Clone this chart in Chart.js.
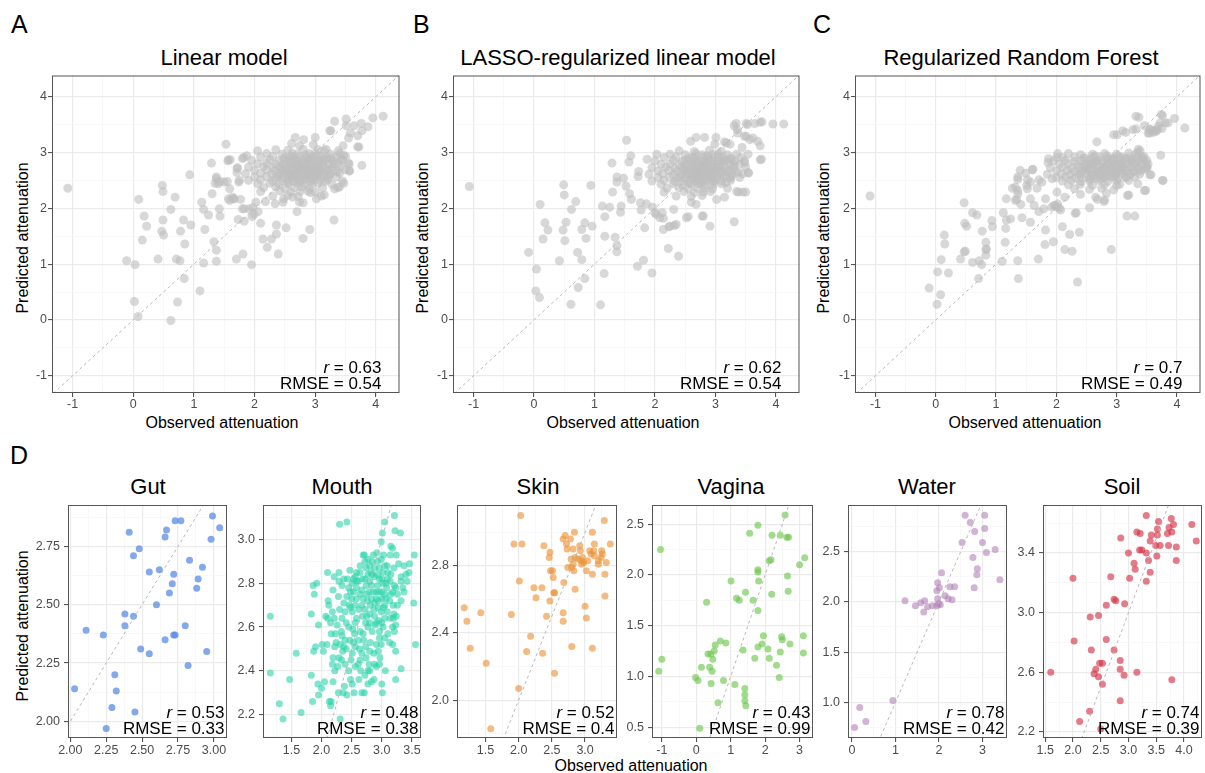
<!DOCTYPE html>
<html>
<head>
<meta charset="utf-8">
<script src="https://cdn.jsdelivr.net/npm/chart.js@4.4.0/dist/chart.umd.min.js"></script>
<style>
  html, body { margin: 0; padding: 0; background: #fff; }
  body { width: 1205px; height: 773px; position: relative; overflow: hidden;
         font-family: "Liberation Sans", Arial, sans-serif; color: #000; }
  canvas { position: absolute; }
  .txt { position: absolute; white-space: nowrap; }
  .tag { font-size: 25px; line-height: 25px; }
  .ttl { font-size: 22px; line-height: 22px; transform: translateX(-50%); }
  .axt { font-size: 16px; line-height: 16px; transform: translateX(-50%); }
  .ayt { font-size: 16px; line-height: 16px; transform: translate(-50%, -50%) rotate(-90deg); }
</style>
</head>
<body>
<div class="txt tag" style="left:11px;top:12px">A</div>
<div class="txt tag" style="left:413px;top:12px">B</div>
<div class="txt tag" style="left:813px;top:12px">C</div>
<div class="txt tag" style="left:10px;top:443px">D</div>

<div class="txt ttl" style="left:224px;top:47px">Linear model</div>
<div class="txt ttl" style="left:618px;top:47px">LASSO-regularized linear model</div>
<div class="txt ttl" style="left:1021px;top:47px">Regularized Random Forest</div>

<div class="txt axt" style="left:222px;top:415px">Observed attenuation</div>
<div class="txt axt" style="left:623px;top:415px">Observed attenuation</div>
<div class="txt axt" style="left:1025px;top:415px">Observed attenuation</div>
<div class="txt ayt" style="left:23px;top:238px">Predicted attenuation</div>
<div class="txt ayt" style="left:423px;top:238px">Predicted attenuation</div>
<div class="txt ayt" style="left:824px;top:238px">Predicted attenuation</div>

<div class="txt ttl" style="left:148px;top:476px">Gut</div>
<div class="txt ttl" style="left:342px;top:476px">Mouth</div>
<div class="txt ttl" style="left:538px;top:476px">Skin</div>
<div class="txt ttl" style="left:731px;top:476px">Vagina</div>
<div class="txt ttl" style="left:927px;top:476px">Water</div>
<div class="txt ttl" style="left:1122px;top:476px">Soil</div>
<div class="txt ayt" style="left:23px;top:626px">Predicted attenuation</div>
<div class="txt axt" style="left:631px;top:758px">Observed attenuation</div>

<script>
// observed vs predicted attenuation, [observed, predicted]
const linearPts = [
  [-1.08,2.36],[-0.11,1.06],[0.03,0.99],[0.02,0.33],[0.08,0.06],[0.62,-0.01],[0.73,0.32],[0.84,0.74],[1.10,0.52],
  [0.41,1.09],[0.71,1.09],[0.77,1.06],[1.16,1.02],[1.37,1.05],[1.70,1.09],[1.81,1.18],[1.95,0.99],[1.37,1.25],[1.33,1.40],
  [2.39,1.18],[2.21,1.30],[2.14,1.45],[2.28,1.45],[2.80,1.46],[2.36,1.54],[2.52,1.65],[2.36,1.70],[2.91,1.62],[3.31,1.79],
  [2.70,1.94],[2.10,1.73],[1.83,1.77],[1.73,1.80],[0.15,1.43],[0.22,1.68],[0.18,1.86],[0.09,2.16],[0.47,1.59],[0.50,1.52],
  [0.49,1.79],[0.48,2.41],[0.49,2.30],[0.62,1.98],[0.69,2.20],[0.78,1.59],[0.83,1.79],[0.85,1.36],[0.95,1.70],[0.93,2.60],
  [1.18,1.62],[1.13,2.11],[1.16,1.98],[1.24,1.88],[1.30,2.26],[1.29,2.81],[1.43,1.86],[1.42,1.99],[1.37,2.56],[1.40,2.44],
  [1.53,3.15],[1.55,2.48],[1.57,2.87],[1.59,2.14],[1.65,2.17],[1.71,2.71],[1.74,2.47],[1.83,1.99],[1.82,2.91],[1.97,2.01],
  [2.02,2.11],[2.05,3.03],[1.99,1.89],[2.06,1.94],[2.18,2.12],[2.34,2.08],[2.47,2.11],[2.67,3.27],[3.00,3.27],[3.26,3.39],
  [3.32,3.56],[3.51,3.60],[3.76,3.52],[3.95,3.62],[4.12,3.65],[3.87,3.46],[3.77,2.77],[3.70,3.10],[3.56,2.67],[3.47,2.45],
  [3.37,2.37],[3.32,2.35],[3.02,2.17],[3.15,2.24],[2.92,2.28],[2.74,2.11],[2.63,2.20],[2.48,2.17],
  [1.87,2.94],[1.80,2.89],[1.60,2.87],[1.56,2.85],[1.72,2.73],[1.71,2.64],[1.75,2.50],[1.37,2.53],[1.35,2.45],[1.43,2.48],
  [1.50,2.47],[1.59,2.35],[1.64,2.20],[1.57,2.17],[1.67,2.17],[1.77,2.16],[1.80,1.99],[1.91,1.99],[1.96,1.85],
  [2.81,3.23],[2.61,3.16],[2.74,3.12],[2.97,3.14],[3.18,3.06],[3.64,3.48],[3.24,3.39],[3.51,3.48],[3.58,3.35],[3.70,3.30],
  [3.77,3.39],[3.55,3.26],[3.46,3.12],[3.72,3.10],[3.38,3.03],[3.47,2.95],[3.43,2.88],[3.56,2.79],[3.57,2.67],[2.80,2.10],
  [2.35,3.05],[2.55,3.04],[2.80,3.06],[3.05,3.05],[3.15,3.03],
  [2.20,2.98],[2.45,2.97],[2.62,2.99],[2.70,2.97],[2.90,2.98],[3.00,2.99],[3.25,2.97],[3.40,2.98],
  [2.10,2.92],[2.30,2.93],[2.50,2.91],[2.58,2.92],[2.75,2.93],[2.85,2.91],[2.95,2.92],[3.10,2.93],[3.20,2.91],[3.35,2.92],[3.50,2.93],
  [1.95,2.86],[2.25,2.87],[2.40,2.85],[2.55,2.86],[2.65,2.87],[2.72,2.85],[2.80,2.86],[2.90,2.87],[3.00,2.85],[3.08,2.86],[3.18,2.87],[3.30,2.85],[3.45,2.86],
  [2.05,2.80],[2.20,2.81],[2.35,2.79],[2.48,2.80],[2.60,2.81],[2.68,2.79],[2.76,2.80],[2.84,2.81],[2.92,2.79],[3.02,2.80],[3.12,2.81],[3.22,2.79],[3.38,2.80],[3.55,2.81],
  [1.90,2.74],[2.15,2.75],[2.30,2.73],[2.42,2.74],[2.52,2.75],[2.62,2.73],[2.70,2.74],[2.78,2.75],[2.86,2.73],[2.95,2.74],[3.05,2.75],[3.15,2.73],[3.28,2.74],[3.42,2.75],
  [2.00,2.68],[2.20,2.69],[2.33,2.67],[2.45,2.68],[2.55,2.69],[2.64,2.67],[2.72,2.68],[2.80,2.69],[2.88,2.67],[2.97,2.68],[3.06,2.69],[3.18,2.67],[3.30,2.68],[3.50,2.69],
  [1.85,2.62],[2.10,2.63],[2.28,2.61],[2.40,2.62],[2.50,2.63],[2.60,2.61],[2.68,2.62],[2.76,2.63],[2.84,2.61],[2.93,2.62],[3.02,2.63],[3.12,2.61],[3.25,2.62],[3.40,2.63],
  [2.00,2.56],[2.20,2.57],[2.35,2.55],[2.47,2.56],[2.57,2.57],[2.66,2.55],[2.74,2.56],[2.83,2.57],[2.92,2.55],[3.00,2.56],[3.10,2.57],[3.22,2.55],[3.35,2.56],
  [1.90,2.50],[2.10,2.51],[2.30,2.49],[2.45,2.50],[2.55,2.51],[2.65,2.49],[2.75,2.50],[2.85,2.51],[2.95,2.49],[3.08,2.50],[3.20,2.51],[3.45,2.49],
  [2.05,2.44],[2.25,2.45],[2.40,2.43],[2.55,2.44],[2.70,2.45],[2.82,2.43],[2.95,2.44],[3.05,2.45],[3.28,2.43],
  [2.15,2.37],[2.35,2.38],[2.50,2.36],[2.65,2.37],[2.78,2.38],[2.90,2.36],[3.12,2.37],[3.40,2.38],
  [2.10,2.30],[2.42,2.31],[2.60,2.29],[2.75,2.30],[2.88,2.31],[3.00,2.29],
  [2.30,2.22],[2.55,2.23],[2.72,2.21],[3.10,2.22],
  [2.60,2.70],[2.70,2.65],[2.80,2.72],[2.90,2.66],[2.65,2.58],[2.85,2.60],[2.75,2.77],[2.55,2.63],[2.95,2.71],[3.05,2.62],
  [2.45,2.72],[2.52,2.66],[2.58,2.78],[2.62,2.55],[2.68,2.84],[2.72,2.58],[2.78,2.68],[2.82,2.53],[2.86,2.79],[2.90,2.62],
  [2.94,2.86],[2.98,2.58],[3.02,2.72],[3.06,2.78],[3.10,2.65],[3.14,2.88],[3.20,2.70],[3.24,2.59],[3.30,2.80],[2.40,2.58],
  [2.48,2.88],[2.56,2.47],[2.64,2.93],[2.74,2.47],[2.84,2.96],[2.96,2.52],[3.04,2.94],[3.16,2.48],[3.26,2.90],[3.36,2.66]
];

const lassoPts = [
  [-1.07,2.39],[-0.09,1.21],[0.04,0.91],[0.03,0.52],[0.09,0.40],[0.61,0.28],[1.10,0.27],[0.73,0.58],[0.84,0.74],
  [0.42,1.06],[0.72,1.21],[0.79,1.08],[1.16,0.83],[1.37,1.22],[1.37,1.33],[1.34,1.48],[1.71,0.96],[1.81,1.07],[1.95,0.84],
  [2.22,1.28],[2.39,1.14],[1.83,1.65],[1.17,1.50],[0.15,1.45],[0.18,1.74],[0.23,1.61],[0.10,2.07],[0.48,1.61],[0.51,1.42],
  [0.53,1.75],[0.49,2.42],[0.50,2.24],[0.62,1.98],[0.69,2.12],[0.79,1.62],[0.84,1.74],[0.86,1.46],[0.96,1.68],[0.94,2.41],
  [1.17,1.85],[1.13,2.04],[1.25,2.02],[1.30,2.29],[1.29,2.81],[1.43,1.93],[1.44,2.04],[1.37,2.56],[1.53,3.22],[1.57,2.83],
  [1.60,2.94],[2.00,1.92],[2.14,1.82],[2.12,1.92],[2.31,1.98],[2.35,1.71],[2.25,1.68],[2.14,1.62],[2.55,1.85],[2.80,1.86],
  [2.91,1.68],[3.31,1.76],[2.60,2.11],[3.50,2.29],[3.38,2.29],[3.55,2.63],[3.76,2.88],[3.74,3.12],[3.65,3.52],[3.77,3.55],
  [3.95,3.51],[4.13,3.51],[3.34,3.52],[3.53,3.50],[3.36,3.41],[3.51,3.29],[3.57,3.23],[2.68,3.27],[2.82,3.27],[2.59,3.20],
  [3.01,3.27],[3.18,3.17],
  [2.03,2.97],[1.87,2.88],[1.73,2.66],[1.72,2.57],[1.37,2.47],[1.48,2.54],[1.52,2.40],[1.58,2.26],[1.61,2.16],[1.76,2.10],
  [1.86,2.08],[1.96,2.02],[2.02,1.89],[2.08,1.83],[1.77,1.97],[2.99,3.15],[3.15,3.19],[3.24,3.15],[3.31,3.48],[3.51,3.52],
  [3.74,3.54],[3.37,3.35],[3.48,3.29],[3.62,3.26],[3.70,3.20],[3.44,3.09],[3.54,2.97],[3.48,2.82],[3.54,2.64],[3.74,2.87],
  [3.45,2.29],[3.35,2.30],[3.15,2.20],[3.02,2.16],[2.78,1.86],[2.68,2.07],[2.52,1.83],[2.32,1.69],[2.23,1.67],
  [2.40,3.03],[2.65,3.02],[2.90,3.04],[3.10,3.02],
  [2.25,2.97],[2.50,2.96],[2.68,2.98],[2.78,2.96],[2.95,2.97],[3.05,2.98],[3.20,2.96],[3.35,2.97],
  [2.15,2.91],[2.35,2.92],[2.55,2.90],[2.62,2.91],[2.80,2.92],[2.88,2.90],[2.98,2.91],[3.12,2.92],[3.25,2.90],[3.42,2.91],
  [2.00,2.85],[2.30,2.86],[2.45,2.84],[2.58,2.85],[2.68,2.86],[2.75,2.84],[2.83,2.85],[2.93,2.86],[3.03,2.84],[3.10,2.85],[3.20,2.86],[3.32,2.84],[3.48,2.85],
  [2.10,2.79],[2.25,2.80],[2.40,2.78],[2.52,2.79],[2.63,2.80],[2.70,2.78],[2.78,2.79],[2.86,2.80],[2.94,2.78],[3.04,2.79],[3.14,2.80],[3.25,2.78],[3.40,2.79],
  [1.95,2.73],[2.18,2.74],[2.33,2.72],[2.45,2.73],[2.55,2.74],[2.64,2.72],[2.72,2.73],[2.80,2.74],[2.88,2.72],[2.97,2.73],[3.07,2.74],[3.17,2.72],[3.30,2.73],[3.50,2.74],
  [2.05,2.67],[2.23,2.68],[2.36,2.66],[2.48,2.67],[2.58,2.68],[2.66,2.66],[2.74,2.67],[2.82,2.68],[2.90,2.66],[2.99,2.67],[3.08,2.68],[3.20,2.66],[3.33,2.67],
  [1.90,2.61],[2.13,2.62],[2.30,2.60],[2.43,2.61],[2.53,2.62],[2.62,2.60],[2.70,2.61],[2.78,2.62],[2.86,2.60],[2.95,2.61],[3.04,2.62],[3.15,2.60],[3.28,2.61],[3.45,2.62],
  [2.05,2.55],[2.24,2.56],[2.38,2.54],[2.50,2.55],[2.60,2.56],[2.68,2.54],[2.76,2.55],[2.85,2.56],[2.94,2.54],[3.02,2.55],[3.12,2.56],[3.25,2.54],[3.40,2.55],
  [1.95,2.49],[2.15,2.50],[2.33,2.48],[2.48,2.49],[2.58,2.50],[2.68,2.48],[2.77,2.49],[2.87,2.50],[2.97,2.48],[3.10,2.49],[3.25,2.50],
  [2.10,2.43],[2.30,2.44],[2.45,2.42],[2.60,2.43],[2.72,2.44],[2.84,2.42],[2.97,2.43],[3.10,2.44],
  [2.20,2.36],[2.40,2.37],[2.55,2.35],[2.70,2.36],[2.82,2.37],[2.95,2.35],[3.20,2.36],
  [2.15,2.29],[2.48,2.30],[2.65,2.28],[2.80,2.29],[2.92,2.30],
  [2.35,2.22],[2.60,2.21],[2.78,2.23],
  [2.65,2.70],[2.75,2.64],[2.85,2.70],[2.95,2.65],[2.70,2.57],[2.90,2.59],[2.80,2.76],[2.60,2.64],[3.00,2.70],[2.72,2.52],
  [2.47,2.70],[2.53,2.64],[2.60,2.76],[2.63,2.53],[2.69,2.82],[2.73,2.60],[2.79,2.70],[2.83,2.51],[2.87,2.77],[2.91,2.60],
  [2.95,2.84],[2.99,2.56],[3.03,2.70],[3.07,2.76],[3.11,2.63],[3.15,2.86],[3.21,2.68],[3.25,2.57],[3.31,2.78],[2.42,2.56],
  [2.50,2.86],[2.57,2.45],[2.66,2.91],[2.76,2.45],[2.86,2.94],[2.97,2.50],[3.05,2.92],[3.17,2.46],[3.27,2.88],[3.37,2.64]
];

const forestPts = [
  [-1.09,2.22],[-0.11,0.57],[0.02,0.28],[0.08,0.45],[0.03,0.86],[0.09,1.08],[0.21,0.84],[0.41,1.09],[0.61,1.03],[0.76,0.99],
  [0.71,0.74],[0.47,1.22],[0.49,1.23],[0.72,1.06],[0.83,1.16],[0.84,1.27],[0.83,1.39],[1.15,1.39],[1.10,1.05],[1.36,1.06],
  [1.37,0.74],[1.70,1.09],[1.81,1.35],[1.95,1.40],[2.26,1.23],[2.14,1.26],[2.35,0.68],[2.91,1.26],[0.15,1.36],[0.14,1.52],
  [0.48,1.73],[0.51,1.68],[0.47,2.10],[0.61,1.92],[0.68,1.88],[0.77,1.59],[0.93,1.78],[0.94,1.67],[0.83,1.26],[1.16,1.64],
  [1.12,1.92],[1.17,1.79],[1.24,1.81],[1.43,1.83],[1.57,1.75],[1.82,1.61],[2.10,1.67],[2.22,1.53],[2.33,1.92],[2.38,1.57],
  [2.55,2.01],[3.17,1.86],[3.20,2.24],[3.48,2.32],[3.77,2.50],[3.73,2.95],[3.57,2.60],[3.50,2.72],[1.34,2.16],[1.36,2.26],
  [1.17,2.17],[1.32,2.38],[1.36,2.56],[1.40,2.68],[1.52,2.51],[1.61,2.70],[1.96,2.05],[2.01,2.02],[2.07,1.97],[2.67,3.19],
  [2.95,3.32],[3.10,3.39],[3.27,3.41],[3.32,3.65],[3.46,3.48],[3.55,3.41],[3.76,3.66],[3.72,3.53],[3.81,3.53],[3.96,3.61],
  [4.13,3.44],[3.65,3.39],[3.54,3.35],[1.87,2.89],[2.01,2.91],[3.39,3.03],[3.42,2.89],[3.47,2.82],
  [2.02,2.98],[1.86,2.82],[1.60,2.69],[1.49,2.63],[1.36,2.52],[1.27,2.36],[1.36,2.32],[1.52,2.35],[1.51,2.41],[1.68,2.36],
  [1.71,2.51],[1.57,2.47],[1.32,2.14],[1.41,2.07],[1.57,2.17],[1.63,2.05],[1.71,1.94],[1.79,1.99],[1.82,2.17],[1.76,2.47],
  [1.93,2.53],[2.01,2.29],[2.14,2.20],[2.31,1.91],[2.68,2.16],[2.79,2.12],[2.83,2.27],[3.00,2.41],[3.18,2.23],[3.30,1.86],
  [3.35,2.44],[3.46,2.32],[3.55,2.60],[3.76,2.50],[3.37,3.63],[3.74,3.68],[3.85,3.53],[3.69,3.47],[3.61,3.36],[3.52,3.35],
  [3.32,3.42],[3.15,3.36],[3.01,3.32],[3.36,3.06],[3.31,2.97],[3.43,2.91],[3.52,2.79],[3.47,2.70],
  [3.55,3.42],[3.62,3.40],[3.68,3.41],[3.75,3.43],[3.58,3.37],[3.65,3.38],[1.92,2.02],[1.98,2.05],[2.05,2.00],[2.02,2.08],
  [2.20,2.98],[2.40,2.96],[2.60,2.97],[2.80,2.98],[3.00,2.97],[3.20,2.99],[3.35,3.01],
  [2.10,2.91],[2.30,2.92],[2.45,2.90],[2.60,2.91],[2.72,2.92],[2.85,2.90],[2.95,2.91],[3.08,2.92],[3.20,2.90],[3.32,2.91],[3.45,2.93],
  [1.95,2.85],[2.15,2.86],[2.30,2.84],[2.42,2.85],[2.55,2.86],[2.65,2.84],[2.75,2.85],[2.85,2.86],[2.95,2.84],[3.05,2.85],[3.15,2.86],[3.25,2.84],[3.38,2.85],[3.50,2.86],
  [2.05,2.79],[2.20,2.80],[2.35,2.78],[2.48,2.79],[2.58,2.80],[2.68,2.78],[2.78,2.79],[2.88,2.80],[2.98,2.78],[3.08,2.79],[3.18,2.80],[3.30,2.78],[3.42,2.79],
  [1.90,2.73],[2.10,2.74],[2.25,2.72],[2.38,2.73],[2.50,2.74],[2.60,2.72],[2.70,2.73],[2.80,2.74],[2.90,2.72],[3.00,2.73],[3.10,2.74],[3.22,2.72],[3.35,2.73],[3.50,2.74],
  [2.00,2.67],[2.18,2.68],[2.30,2.66],[2.43,2.67],[2.55,2.68],[2.65,2.66],[2.75,2.67],[2.85,2.68],[2.95,2.66],[3.05,2.67],[3.15,2.68],[3.28,2.66],[3.40,2.67],
  [1.85,2.61],[2.08,2.62],[2.22,2.60],[2.36,2.61],[2.48,2.62],[2.58,2.60],[2.68,2.61],[2.78,2.62],[2.88,2.60],[2.98,2.61],[3.10,2.62],[3.22,2.60],[3.38,2.61],
  [2.00,2.55],[2.15,2.56],[2.30,2.54],[2.42,2.55],[2.55,2.56],[2.65,2.54],[2.78,2.55],[2.90,2.56],[3.02,2.54],[3.15,2.55],[3.30,2.56],
  [2.10,2.49],[2.25,2.50],[2.40,2.48],[2.55,2.49],[2.70,2.50],[2.85,2.48],[3.00,2.49],[3.20,2.50],
  [2.20,2.42],[2.40,2.43],[2.60,2.41],[2.80,2.42],[3.05,2.43],
  [2.30,2.35],[2.55,2.34],[2.75,2.36],[2.95,2.33],
  [2.40,2.25],[2.65,2.20],[2.80,2.15],
  [2.50,2.70],[2.60,2.76],[2.70,2.65],[2.80,2.70],[2.90,2.76],[3.00,2.64],[3.10,2.70],[2.75,2.58],[2.62,2.82],[2.95,2.82],
  [2.45,2.74],[2.52,2.68],[2.58,2.80],[2.62,2.58],[2.68,2.86],[2.72,2.62],[2.78,2.72],[2.82,2.57],[2.86,2.82],[2.90,2.66],
  [2.94,2.88],[2.98,2.60],[3.02,2.75],[3.06,2.80],[3.10,2.66],[3.14,2.90],[3.20,2.74],[3.24,2.63],[3.30,2.82],[2.40,2.62],
  [2.48,2.90],[2.56,2.52],[2.64,2.94],[2.74,2.52],[2.84,2.94],[2.96,2.56],[3.04,2.92],[3.16,2.55],[3.26,2.88],[3.36,2.70]
];

const gutPts = [
  [2.03,2.14],[2.11,2.39],[2.23,2.37],[2.25,1.97],[2.29,2.06],[2.31,2.20],[2.32,2.13],[2.38,2.41],[2.38,2.46],[2.41,2.81],
  [2.44,2.71],[2.44,2.45],[2.45,2.04],[2.48,2.74],[2.49,2.31],[2.55,2.64],[2.55,2.29],[2.60,2.50],[2.62,2.65],[2.66,2.79],
  [2.67,2.82],[2.66,2.35],[2.69,2.55],[2.71,2.59],[2.72,2.63],[2.72,2.37],[2.73,2.37],[2.73,2.86],[2.77,2.86],[2.80,2.41],
  [2.82,2.24],[2.83,2.69],[2.88,2.57],[2.89,2.61],[2.92,2.66],[2.95,2.30],[2.98,2.78],[2.99,2.88],[3.04,2.83]
];

const mouthPts = [
  [1.15,2.65],[1.15,2.39],[1.30,2.25],[1.36,2.18],[1.47,2.36],[1.58,2.48],[1.66,2.21],[1.83,2.38],[1.85,2.26],[1.83,2.66],
  [1.86,2.79],[1.92,2.80],[1.88,2.75],[1.90,2.51],[1.87,2.49],[1.95,2.61],[1.94,2.34],[2.00,2.32],[1.95,2.29],[2.05,2.35],
  [2.03,2.49],[2.09,2.52],[2.01,2.52],[2.07,2.65],[2.10,2.64],[2.10,2.85],[2.11,2.72],[2.13,2.26],[2.16,2.26],[2.15,2.24],
  [2.19,2.35],[2.22,2.40],[2.18,2.43],[2.19,2.46],[2.22,2.51],[2.16,2.57],[2.21,2.64],[2.19,2.77],[2.21,2.83],[2.29,2.85],
  [2.30,3.07],[2.42,3.08],[2.31,2.18],[2.28,2.30],[2.36,2.30],[2.42,2.29],[2.38,2.33],[2.27,2.42],[2.35,2.49],[2.41,2.50],
  [2.34,2.56],[2.39,2.54],[2.47,2.54],[2.30,2.68],[2.34,2.64],[2.39,2.67],[2.28,2.74],[2.34,2.79],[2.43,2.82],[2.47,2.86],
  [2.48,2.36],[2.49,2.45],[2.51,2.48],[2.51,2.34],[2.54,2.30],[2.56,2.62],[2.52,2.59],[2.55,2.57],[2.58,2.73],[2.50,2.73],
  [2.56,2.83],[2.58,2.81],[2.63,2.50],[2.64,2.45],[2.65,2.40],[2.67,2.30],[2.71,2.30],[2.77,2.34],[2.83,2.35],[2.87,2.36],
  [3.00,2.34],[3.01,2.30],[3.06,2.40],[2.97,2.46],[2.88,2.43],[2.79,2.43],[2.77,2.40],[2.74,2.46],[2.73,2.51],[2.70,2.54],
  [2.81,2.53],[2.87,2.48],[2.91,2.52],[2.96,2.55],[3.02,2.60],[3.18,2.60],[3.20,2.66],[3.19,2.70],[3.32,2.72],[3.23,2.49],
  [3.19,2.64],[3.24,2.65],[3.32,2.41],[3.23,2.36],[3.56,2.52],[3.53,2.71],[3.54,2.93],[3.46,2.89],[3.35,2.78],[3.32,2.83],
  [3.21,3.11],[3.22,3.04],[3.31,3.03],[3.05,3.08],[3.01,3.03],[2.99,2.99],[3.15,2.97],[3.18,2.96],[3.24,2.93],[3.14,2.93],
  [3.03,2.93],[2.92,2.94],[2.86,2.93],[2.71,2.93],[2.69,2.93],[2.77,2.91],[2.84,2.90],[2.93,2.90],[2.99,2.91],[3.09,2.88],
  [3.20,2.87],[3.28,2.89],[3.37,2.88],[3.32,2.81],[3.23,2.78],[3.18,2.76],[3.08,2.78],[3.05,2.75],[3.00,2.76],[2.93,2.79],
  [2.88,2.83],[2.82,2.85],[2.74,2.87],[2.64,2.88],[2.64,2.85],[2.68,2.82],[2.74,2.79],[2.79,2.76],[2.83,2.73],[2.88,2.71],
  [2.94,2.69],[2.99,2.67],[3.05,2.70],[3.13,2.72],[3.09,2.67],[3.14,2.64],[3.05,2.64],[2.95,2.63],[2.88,2.65],[2.80,2.66],
  [2.72,2.68],[2.67,2.70],[2.64,2.75],[2.69,2.73],[2.76,2.72],[2.81,2.70],[2.86,2.76],[2.91,2.73],[2.96,2.76],[3.02,2.80],
  [3.09,2.82],[3.15,2.84],[3.10,2.85],[3.02,2.85],[2.96,2.82],[2.80,2.81],[2.72,2.82],[2.58,2.78],[2.53,2.76],[2.48,2.76],
  [2.56,2.70],[2.62,2.68],[2.68,2.65],[2.73,2.62],[2.77,2.60],[2.84,2.58],[2.89,2.61],[2.96,2.58],[3.05,2.55],[3.13,2.53],
  [3.10,2.57],[2.64,2.58],[2.69,2.57],[2.61,2.54],[2.53,2.53],[2.45,2.60],[2.41,2.62],[2.46,2.70],[2.37,2.71],[2.42,2.74],
  [2.45,2.78],[2.51,2.80],[2.37,2.82],[2.29,2.81],[2.12,2.70],[2.18,2.67],[2.15,2.62],[2.26,2.61],[2.33,2.58],[2.23,2.57],
  [2.24,2.53],[2.31,2.52],[2.37,2.51],[2.29,2.46],[2.33,2.45],[2.39,2.43],[2.45,2.40],[2.56,2.42],[2.62,2.36],[2.72,2.38],
  [2.80,2.40],[2.91,2.42],[2.96,2.43],[2.61,2.43],[2.67,2.48],[2.56,2.51],[2.80,2.49],[2.94,2.49],[2.99,2.52],[3.18,2.52],
  [3.21,2.58],[3.23,2.61],[3.26,2.70],[3.37,2.76],[3.42,2.81],[3.40,2.84],[3.45,2.85],[3.26,2.75],[3.21,2.79],[3.14,2.81],
  [2.88,2.87],[2.96,2.87],[3.05,2.88],[2.80,2.88],[2.72,2.90],[2.58,2.85],[2.53,2.82],[2.61,2.81],[2.67,2.77],[2.75,2.75],
  [2.83,2.79],[2.91,2.76],[2.94,2.72],[3.00,2.73],[3.07,2.73],[3.15,2.75],[3.03,2.69],[2.87,2.68],[2.80,2.62],[2.91,2.62],
  [3.00,2.62],[2.75,2.65],[2.58,2.64],[2.51,2.67],[2.48,2.69],[2.84,2.84],[2.77,2.84],[2.93,2.84],[3.00,2.82],[3.07,2.80]
];

const skinPts = [
  [1.18,2.55],[1.22,2.47],[1.27,2.31],[1.43,2.52],[1.51,2.22],[1.58,1.83],[1.89,2.51],[1.93,2.93],[2.03,3.10],[2.05,2.93],
  [2.01,2.71],[2.00,2.07],[2.12,2.29],[2.18,2.38],[2.23,2.67],[2.26,2.61],[2.35,2.67],[2.36,2.28],[2.38,2.92],[2.42,2.50],
  [2.47,2.59],[2.46,2.85],[2.47,2.88],[2.48,2.77],[2.51,2.77],[2.52,2.73],[2.53,2.64],[2.54,2.64],[2.54,2.16],[2.67,2.52],
  [2.67,2.47],[2.68,2.70],[2.67,2.96],[2.70,2.98],[2.72,2.93],[2.73,2.90],[2.74,2.79],[2.78,2.96],[2.80,2.79],[2.82,2.81],
  [2.80,2.32],[2.84,3.00],[2.82,2.90],[2.85,2.85],[2.83,2.77],[2.85,2.66],[2.92,2.92],[2.93,2.89],[2.94,2.83],[2.98,2.82],
  [2.95,2.81],[3.00,2.56],[3.02,2.49],[3.02,2.77],[3.07,2.89],[3.09,2.87],[3.11,3.00],[3.11,2.75],[3.11,2.31],[3.14,2.93],
  [3.13,2.89],[3.20,2.81],[3.20,2.83],[3.25,2.89],[3.26,2.87],[3.29,3.07],[3.30,2.75],[3.30,2.62],[3.32,2.82],[3.38,2.93],
  [2.79,2.84],[2.89,2.84],[2.96,2.85],[3.04,2.83],[3.14,2.86],[3.24,2.85]
];

const vaginaPts = [
  [-1.04,2.25],[-1.00,1.17],[-1.09,1.05],[-0.02,0.99],[0.05,0.96],[0.10,0.49],[0.15,1.09],[0.30,1.73],[0.34,1.22],[0.39,1.09],
  [0.42,1.22],[0.43,0.93],[0.46,1.05],[0.48,1.17],[0.52,1.25],[0.55,1.31],[0.63,0.74],[0.70,1.35],[0.79,0.96],[0.86,1.33],
  [1.01,1.94],[1.12,0.92],[1.17,1.77],[1.25,1.75],[1.36,1.26],[1.41,0.88],[1.41,0.82],[1.41,0.76],[1.44,0.71],[1.43,1.83],
  [1.55,2.41],[1.65,1.75],[1.70,1.18],[1.79,2.49],[1.79,2.05],[1.79,2.03],[1.81,1.94],[1.79,1.65],[1.79,1.29],[1.91,1.32],
  [1.95,1.40],[2.08,1.27],[2.12,1.18],[2.12,2.14],[2.17,2.15],[2.19,1.81],[2.20,2.39],[2.33,1.11],[2.41,0.99],[2.44,1.24],
  [2.44,2.39],[2.48,1.39],[2.50,1.36],[2.58,2.59],[2.63,2.37],[2.65,1.99],[2.67,1.84],[2.72,1.32],[2.68,2.37],[3.00,2.10],
  [3.11,1.40],[3.11,1.23],[3.15,2.17]
];

const waterPts = [
  [0.06,0.75],[0.18,0.95],[0.32,0.81],[0.94,1.02],[1.22,2.01],[1.46,1.96],[1.58,1.99],[1.65,1.90],[1.67,2.01],[1.74,1.95],
  [1.85,1.96],[1.95,1.96],[1.97,2.03],[1.95,2.11],[1.97,2.19],[2.01,2.14],[2.03,1.97],[1.99,1.98],[2.06,2.29],[2.14,2.06],
  [2.21,2.03],[2.25,2.15],[2.30,2.02],[2.36,2.15],[2.53,2.59],[2.60,2.86],[2.72,2.79],[2.78,2.44],[2.81,2.14],[2.82,2.70],
  [2.88,2.33],[2.87,2.27],[3.00,2.59],[3.05,2.86],[3.05,2.73],[3.09,2.49],[3.29,2.52],[3.40,2.22]
];

const soilPts = [
  [1.60,2.60],[2.00,3.23],[2.02,2.81],[2.12,2.27],[2.30,2.34],[2.31,2.97],[2.33,2.75],[2.38,2.59],[2.41,2.62],[2.46,2.57],
  [2.46,2.98],[2.48,2.66],[2.53,2.66],[2.53,2.52],[2.50,2.22],[2.60,3.05],[2.60,2.82],[2.68,3.24],[2.74,2.75],[2.74,3.09],
  [2.77,3.08],[2.85,2.68],[2.85,2.62],[2.86,3.50],[2.85,2.41],[2.92,2.58],[2.93,3.06],[3.00,3.40],[3.02,3.23],[3.10,3.33],
  [3.12,3.29],[3.15,2.60],[3.15,3.54],[3.21,3.53],[3.20,3.42],[3.24,3.42],[3.32,3.65],[3.32,3.40],[3.32,3.21],[3.36,3.35],
  [3.39,3.48],[3.41,3.52],[3.39,3.27],[3.51,3.38],[3.49,3.45],[3.52,3.52],[3.52,3.56],[3.54,3.61],[3.57,3.45],[3.72,3.45],
  [3.70,3.53],[3.73,3.57],[3.77,3.63],[3.78,3.54],[3.81,3.59],[3.78,2.55],[3.86,3.44],[3.86,3.35],[4.14,3.59],[4.22,3.48]
];

// axis breaks
const topTicks = [-1, 0, 1, 2, 3, 4];
const gutXTicks = [2.00, 2.25, 2.50, 2.75, 3.00];
const gutYTicks = [2.00, 2.25, 2.50, 2.75];
const mouthXTicks = [1.5, 2.0, 2.5, 3.0, 3.5];
const mouthYTicks = [2.2, 2.4, 2.6, 2.8, 3.0];
const skinXTicks = [1.5, 2.0, 2.5, 3.0];
const skinYTicks = [2.0, 2.4, 2.8];
const vaginaXTicks = [-1, 0, 1, 2, 3];
const vaginaYTicks = [0.5, 1.0, 1.5, 2.0, 2.5];
const waterXTicks = [0, 1, 2, 3];
const waterYTicks = [1.0, 1.5, 2.0, 2.5];
const soilXTicks = [1.5, 2.0, 2.5, 3.0, 3.5, 4.0];
const soilYTicks = [2.2, 2.6, 3.0, 3.4];

// correlation and error for each model / environment
const stats = {
  linear: ['0.63', '0.54'], lasso: ['0.62', '0.54'], forest: ['0.7', '0.49'],
  gut: ['0.53', '0.33'], mouth: ['0.48', '0.38'], skin: ['0.52', '0.4'],
  vagina: ['0.43', '0.99'], water: ['0.78', '0.42'], soil: ['0.74', '0.39']
};

const FONT = '"Liberation Sans", Arial, sans-serif';
const AXW = 42, AXH = 30;
Chart.defaults.font.family = FONT;

// major breaks plus the half-way minor breaks that fall inside the range
function tickSet(major, lo, hi) {
  const step = major[1] - major[0];
  const minor = [major[0] - step / 2].concat(major.map(m => m + step / 2));
  return major.map(v => ({ value: v, main: true }))
    .concat(minor.filter(v => v > lo && v < hi).map(v => ({ value: v, main: false })))
    .sort((a, b) => a.value - b.value);
}

function axis(pos, range, major, digits, pad) {
  const ticks = tickSet(major, range[0], range[1]);
  const horiz = pos === 'bottom';
  return {
    type: 'linear', position: pos, min: range[0], max: range[1],
    afterBuildTicks: s => { s.ticks = ticks.map(t => ({ ...t })); },
    afterFit: s => {
      if (horiz) { s.height = AXH; s.paddingLeft = 0; s.paddingRight = 0; }
      else { s.width = AXW; s.paddingTop = 0; s.paddingBottom = 0; }
    },
    border: { display: false },
    grid: {
      color: c => (c.tick && c.tick.main) ? '#ebebeb' : '#f5f5f5',
      lineWidth: c => (c.tick && c.tick.main) ? 1.2 : 0.7,
      tickColor: c => (c.tick && c.tick.main) ? '#444' : 'rgba(0,0,0,0)',
      tickWidth: 1, tickLength: 4
    },
    ticks: {
      autoSkip: false, maxRotation: 0, minRotation: 0, padding: pad,
      color: '#4d4d4d', font: { family: FONT, size: 12.5 },
      callback: v => major.some(m => Math.abs(m - v) < 1e-9) ? Number(v).toFixed(digits) : ''
    }
  };
}

// panel frame and the r / RMSE note in the lower right corner
const panelDecor = {
  id: 'panelDecor',
  afterDatasetsDraw(chart, args, opts) {
    const { ctx, chartArea: a } = chart;
    ctx.save();
    ctx.strokeStyle = '#555';
    ctx.lineWidth = 1;
    ctx.strokeRect(a.left + 0.5, a.top + 0.5, a.right - a.left - 1, a.bottom - a.top - 1);
    const x = a.right - opts.inset;
    ctx.fillStyle = '#000';
    ctx.textAlign = 'right';
    ctx.textBaseline = 'alphabetic';
    ctx.font = '17px ' + FONT;
    const rest = ' = ' + opts.stat[0];
    ctx.fillText(rest, x, a.bottom - opts.gap - 16);
    ctx.fillText('RMSE = ' + opts.stat[1], x, a.bottom - opts.gap);
    const w = ctx.measureText(rest).width;
    ctx.font = 'italic 17px ' + FONT;
    ctx.fillText('r', x - w, a.bottom - opts.gap - 16);
    ctx.restore();
  }
};

function panel(p) {
  const [L, T, R, B] = p.box;
  const w = R - L + AXW + 1, h = B - T + 1 + AXH;
  const cv = document.createElement('canvas');
  cv.width = w; cv.height = h;
  cv.style.left = (L - AXW) + 'px';
  cv.style.top = (T - 1) + 'px';
  cv.style.width = w + 'px';
  cv.style.height = h + 'px';
  document.body.appendChild(cv);
  const lo = Math.min(p.x[0], p.y[0]) - 1, hi = Math.max(p.x[1], p.y[1]) + 1;
  new Chart(cv, {
    type: 'scatter',
    data: {
      datasets: [
        { data: [{ x: lo, y: lo }, { x: hi, y: hi }], showLine: true, pointRadius: 0,
          borderColor: '#b8b8b8', borderWidth: 1, borderDash: [3, 3], order: 0 },
        { data: p.pts.map(([x, y]) => ({ x, y })), backgroundColor: p.color,
          borderWidth: 0, pointRadius: p.radius, order: 1 }
      ]
    },
    options: {
      responsive: false, animation: false, events: [],
      layout: { padding: { top: 1, right: 1, left: 0, bottom: 0 } },
      scales: {
        x: axis('bottom', p.x, p.xt, p.xd, p.padX),
        y: axis('left', p.y, p.yt, p.yd, p.padY)
      },
      plugins: {
        legend: { display: false }, tooltip: { enabled: false },
        panelDecor: { stat: p.stat, inset: p.inset, gap: p.gap }
      }
    },
    plugins: [panelDecor]
  });
}

const grey = 'rgba(190,190,190,0.6)';
const modelAxes = { x: [-1.34, 4.39], y: [-1.31, 4.38], xt: topTicks, yt: topTicks, xd: 0, yd: 0,
                    padX: 0.5, padY: 1, radius: 4.5, color: grey, inset: 18, gap: 4 };
panel({ ...modelAxes, box: [52, 72, 403, 393], pts: linearPts, stat: stats.linear });
panel({ ...modelAxes, box: [453, 72, 803, 393], pts: lassoPts, stat: stats.lasso });
panel({ ...modelAxes, box: [855, 72, 1204, 393], pts: forestPts, stat: stats.forest });

const envAxes = { padX: 1.2, padY: 4, radius: 3.5, inset: 2.5, gap: 4.5 };
panel({ ...envAxes, box: [68, 502, 230, 738], pts: gutPts, stat: stats.gut,
        x: [1.984, 3.091], y: [1.929, 2.927], xt: gutXTicks, yt: gutYTicks, xd: 2, yd: 2,
        color: 'rgba(90,140,228,0.75)' });
panel({ ...envAxes, box: [263, 502, 424, 738], pts: mouthPts, stat: stats.mouth,
        x: [1.028, 3.651], y: [2.093, 3.158], xt: mouthXTicks, yt: mouthYTicks, xd: 1, yd: 1,
        color: 'rgba(45,212,172,0.6)' });
panel({ ...envAxes, box: [457, 502, 620, 738], pts: skinPts, stat: stats.skin,
        x: [1.071, 3.481], y: [1.775, 3.162], xt: skinXTicks, yt: skinYTicks, xd: 1, yd: 1,
        color: 'rgba(236,146,52,0.62)' });
panel({ ...envAxes, box: [652, 502, 816, 738], pts: vaginaPts, stat: stats.vagina,
        x: [-1.286, 3.39], y: [0.393, 2.689], xt: vaginaXTicks, yt: vaginaYTicks, xd: 0, yd: 1,
        color: 'rgba(112,200,82,0.65)' });
panel({ ...envAxes, box: [848, 502, 1010, 738], pts: waterPts, stat: stats.water,
        x: [-0.09, 3.563], y: [0.646, 2.963], xt: waterXTicks, yt: waterYTicks, xd: 0, yd: 1,
        color: 'rgba(178,128,184,0.6)' });
panel({ ...envAxes, box: [1043, 502, 1205, 738], pts: soilPts, stat: stats.soil,
        x: [1.46, 4.323], y: [2.16, 3.721], xt: soilXTicks, yt: soilYTicks, xd: 1, yd: 1,
        color: 'rgba(214,52,72,0.65)' });
</script>
</body>
</html>
